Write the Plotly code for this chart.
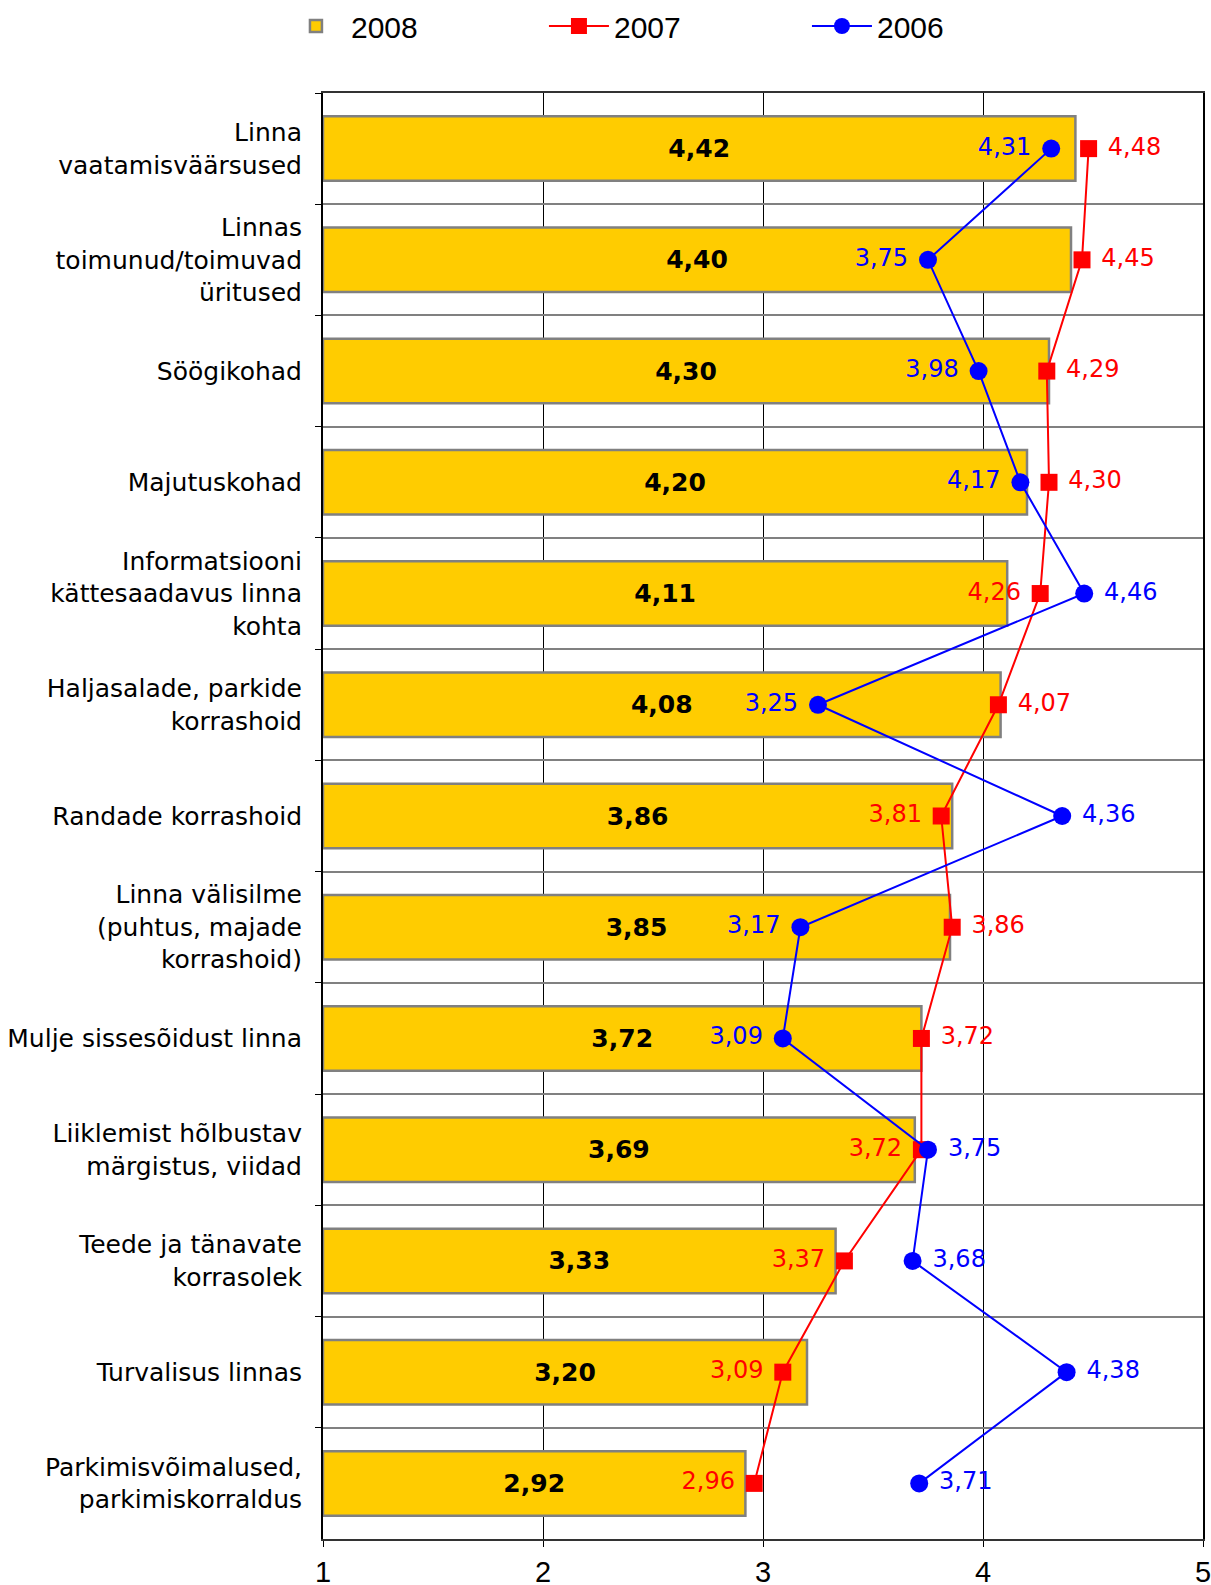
import plotly.graph_objects as go

categories = [
    "Linna<br>vaatamisväärsused",
    "Linnas<br>toimunud/toimuvad<br>üritused",
    "Söögikohad",
    "Majutuskohad",
    "Informatsiooni<br>kättesaadavus linna<br>kohta",
    "Haljasalade, parkide<br>korrashoid",
    "Randade korrashoid",
    "Linna välisilme<br>(puhtus, majade<br>korrashoid)",
    "Mulje sissesõidust linna",
    "Liiklemist hõlbustav<br>märgistus, viidad",
    "Teede ja tänavate<br>korrasolek",
    "Turvalisus linnas",
    "Parkimisvõimalused,<br>parkimiskorraldus",
]
v2008 = [4.42, 4.40, 4.30, 4.20, 4.11, 4.08, 3.86, 3.85, 3.72, 3.69, 3.33, 3.20, 2.92]
v2007 = [4.48, 4.45, 4.29, 4.30, 4.26, 4.07, 3.81, 3.86, 3.72, 3.72, 3.37, 3.09, 2.96]
v2006 = [4.31, 3.75, 3.98, 4.17, 4.46, 3.25, 4.36, 3.17, 3.09, 3.75, 3.68, 4.38, 3.71]
pos2007 = ["R", "R", "R", "R", "L", "R", "L", "R", "R", "L", "L", "L", "L"]
pos2006 = ["L", "L", "L", "L", "R", "L", "R", "L", "L", "R", "R", "R", "R"]
x_ticks = [1, 2, 3, 4, 5]
axis_min = 1

def fmt(v):
    return f"{v:.2f}".replace(".", ",")

tp = {"R": "middle right", "L": "middle left"}

fig = go.Figure()
fig.add_trace(go.Bar(
    y=categories, x=[v - axis_min for v in v2008], base=axis_min, orientation="h",
    name="2008",
    marker=dict(color="#FFCC00", line=dict(color="#808080", width=2.5)),
    text=[fmt(v) for v in v2008], textposition="inside", insidetextanchor="middle",
    textangle=0, constraintext="none",
    insidetextfont=dict(family="DejaVu Sans", size=25, color="black", weight="bold"),
))
fig.add_trace(go.Scatter(
    y=categories, x=v2007, name="2007", mode="lines+markers+text",
    line=dict(color="#FF0000", width=2),
    marker=dict(symbol="square", size=17, color="#FF0000"),
    text=[" " + fmt(v) + " " for v in v2007], textposition=[tp[p] for p in pos2007],
    textfont=dict(family="DejaVu Sans", size=24, color="#FF0000"),
))
fig.add_trace(go.Scatter(
    y=categories, x=v2006, name="2006", mode="lines+markers+text",
    line=dict(color="#0000FF", width=2),
    marker=dict(symbol="circle", size=18, color="#0000FF"),
    text=[" " + fmt(v) + " " for v in v2006], textposition=[tp[p] for p in pos2006],
    textfont=dict(family="DejaVu Sans", size=24, color="#0000FF"),
))

n = len(categories)
fig.update_layout(
    width=1211, height=1585,
    margin=dict(l=323, r=8, t=93, b=46, autoexpand=False),
    plot_bgcolor="white", paper_bgcolor="white",
    bargap=0.42,
    showlegend=True,
    legend=dict(orientation="h", xref="container", x=0.232, xanchor="left",
                y=1.0, yanchor="top", yref="container",
                font=dict(family="Liberation Sans", size=30, color="black"),
                itemwidth=60, entrywidth=188, traceorder="normal"),
    xaxis=dict(range=[1, 5], tickvals=x_ticks, ticktext=[str(t) for t in x_ticks],
               showgrid=True, gridcolor="black", gridwidth=1,
               showline=True, linecolor="#333333", linewidth=2, mirror=True,
               ticks="outside", ticklen=6, tickcolor="black",
               ticklabeloverflow="allow",
               tickfont=dict(family="Liberation Sans", size=29, color="black"),
               zeroline=False),
    yaxis=dict(type="category", range=[n - 0.5, -0.5], tickson="boundaries",
               showgrid=True, gridcolor="#808080", gridwidth=1.5,
               showline=True, linecolor="black", linewidth=2, mirror=True,
               ticks="outside", ticklen=6, tickcolor="black",
               ticklabelstandoff=14,
               tickfont=dict(family="DejaVu Sans", size=25, color="black")),
)

fig.write_html("out.html", config={"displayModeBar": False},
               post_script="document.body.style.margin='0';document.body.style.overflow='hidden';")
